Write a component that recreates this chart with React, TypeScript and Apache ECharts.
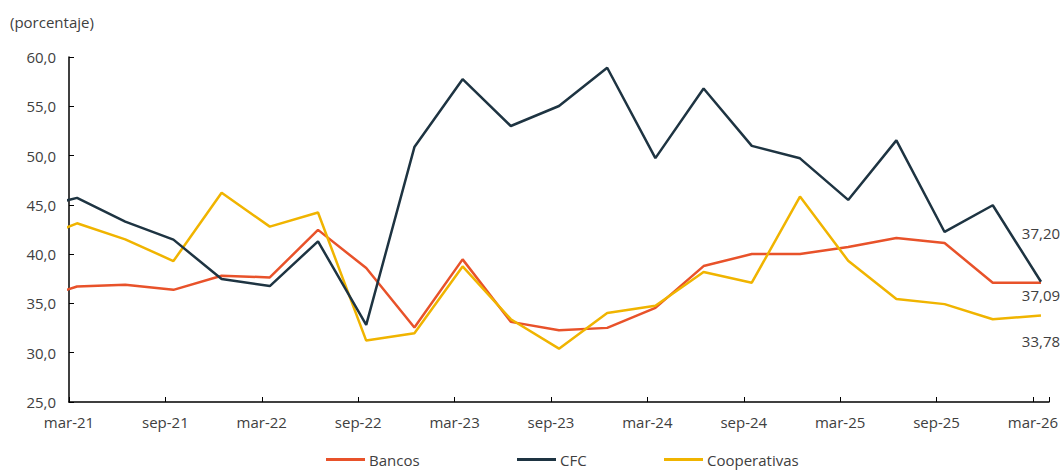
import React, { useEffect, useRef } from "react";
import * as echarts from "echarts";

// Quarterly observations (first one, dic-20, lies before the axis start and is clipped)
const quarters = [
  "dic-20", "mar-21", "jun-21", "sep-21", "dic-21", "mar-22", "jun-22", "sep-22", "dic-22",
  "mar-23", "jun-23", "sep-23", "dic-23", "mar-24", "jun-24", "sep-24", "dic-24",
  "mar-25", "jun-25", "sep-25", "dic-25", "mar-26",
];
const bancos = [
  35.1, 36.72, 36.89, 36.38, 37.81, 37.64, 42.46, 38.59, 32.55,
  39.47, 33.13, 32.28, 32.52, 34.55, 38.79, 40.01, 40.01,
  40.73, 41.64, 41.13, 37.1, 37.09,
];
const cfc = [
  44.5, 45.71, 43.3, 41.47, 37.47, 36.76, 41.3, 32.82, 50.86,
  57.75, 53.0, 55.03, 58.91, 49.74, 56.8, 50.98, 49.72,
  45.5, 51.54, 42.25, 44.96, 37.2,
];
const cooperativas = [
  41.1, 43.13, 41.5, 39.3, 46.22, 42.79, 44.22, 31.23, 31.98,
  38.75, 33.4, 30.41, 34.04, 34.76, 38.18, 37.1, 45.84,
  39.33, 35.44, 34.93, 33.4, 33.78,
];
const xTickLabels = [
  "mar-21", "sep-21", "mar-22", "sep-22", "mar-23", "sep-23",
  "mar-24", "sep-24", "mar-25", "sep-25", "mar-26",
];
const seriesNames = ["Bancos", "CFC", "Cooperativas"];
const colors = ["#E8522A", "#1E3442", "#F0B400"];
const endLabels = ["37,09", "37,20", "33,78"];

const monthNames = ["ene", "feb", "mar", "abr", "may", "jun", "jul", "ago", "sep", "oct", "nov", "dic"];
// month index relative to mar-21, placed in the middle of its month
function xOf(label: string): number {
  const [m, y] = label.split("-");
  const mi = monthNames.indexOf(m);
  const yr = 2000 + parseInt(y, 10);
  return (yr - 2021) * 12 + (mi - 2) + 0.5;
}

export default function App() {
  const ref = useRef<HTMLDivElement>(null);
  useEffect(() => {
    document.body.style.margin = "0";
    const chart = echarts.init(ref.current!, undefined, { renderer: "svg" });
    const font = "'Open Sans', 'Noto Sans', sans-serif";
    const textColor = "#404040";
    const allData = [bancos, cfc, cooperativas];
    const endOffsets = [[0, 12], [0, -49], [0, 26]];
    const legendLefts = [326, 517, 664];

    const series = seriesNames.map((name, si) => {
      const vals = allData[si];
      const data = vals.map((v, i) => [xOf(quarters[i]), v]);
      const last = data[data.length - 1];
      return {
        name,
        type: "line",
        data,
        clip: true,
        showSymbol: false,
        symbol: "none",
        lineStyle: { color: colors[si], width: 2.5 },
        itemStyle: { color: colors[si] },
        z: si === 1 ? 3 : 2,
        markPoint: {
          symbol: "circle",
          symbolSize: 1,
          itemStyle: { color: "rgba(0,0,0,0)" },
          label: {
            show: true,
            formatter: endLabels[si],
            offset: endOffsets[si],
            color: textColor,
            fontSize: 15,
            fontFamily: font,
          },
          data: [{ coord: last, value: last[1] }],
        },
      };
    });

    chart.setOption({
      animation: false,
      textStyle: { fontFamily: font },
      title: {
        text: "(porcentaje)",
        left: 5,
        top: 9,
        textStyle: { fontSize: 15, fontWeight: "normal", color: textColor, fontFamily: font },
      },
      legend: seriesNames.map((n, i) => ({
        data: [n],
        left: legendLefts[i],
        top: 452,
        padding: 0,
        icon: "rect",
        itemWidth: 39,
        itemHeight: 3,
        itemGap: 4,
        textStyle: { fontSize: 15, lineHeight: 15, color: textColor, fontFamily: font, padding: [0, 0, 0, -1] },
      })),
      grid: { left: 69, right: 15, top: 57, bottom: 68, containLabel: false },
      xAxis: {
        type: "value",
        min: 0,
        max: 61,
        interval: 6,
        splitLine: { show: false },
        axisLine: { show: true, lineStyle: { color: "#000", width: 1.5 } },
        axisTick: { show: true, inside: true, length: 5, lineStyle: { color: "#000" } },
        axisLabel: {
          margin: 12,
          fontSize: 15,
          color: textColor,
          fontFamily: font,
          formatter: (v: number) => (v % 6 === 0 ? xTickLabels[v / 6] ?? "" : ""),
        },
      },
      yAxis: {
        type: "value",
        min: 25,
        max: 60,
        interval: 5,
        splitLine: { show: false },
        axisLine: { show: true, lineStyle: { color: "#000", width: 1.5 } },
        axisTick: { show: true, inside: true, length: 5, lineStyle: { color: "#000" } },
        axisLabel: {
          margin: 13,
          fontSize: 15,
          color: textColor,
          fontFamily: font,
          formatter: (v: number) => v.toFixed(1).replace(".", ","),
        },
      },
      series,
    });
    return () => chart.dispose();
  }, []);
  return <div ref={ref} style={{ width: 1064, height: 470 }} />;
}
